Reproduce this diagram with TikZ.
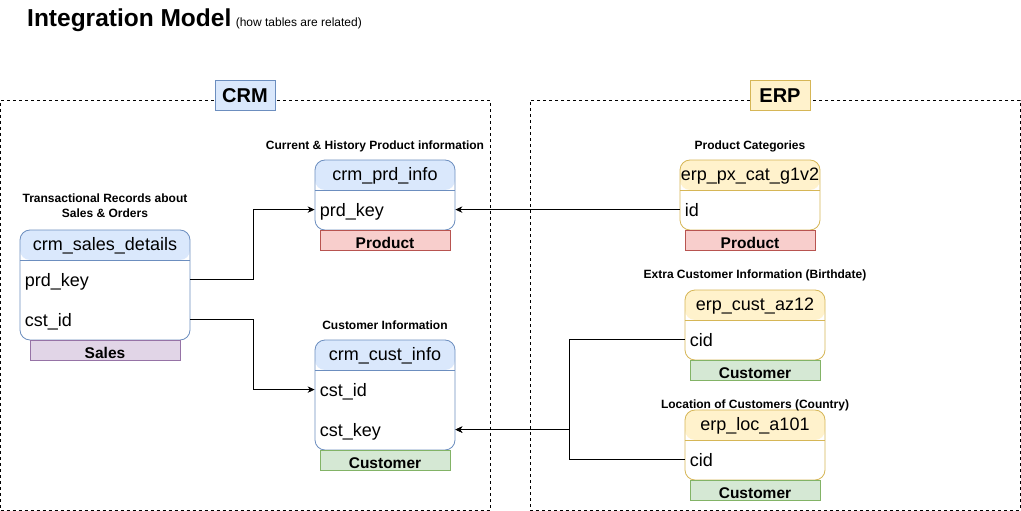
\documentclass[tikz,border=0pt]{standalone}
\usepackage{fontspec}
\setmainfont{Liberation Sans}
\usetikzlibrary{positioning,arrows.meta}

\definecolor{crmfill}{HTML}{DAE8FC}
\definecolor{crmline}{HTML}{6C8EBF}
\definecolor{erpfill}{HTML}{FFF2CC}
\definecolor{erpline}{HTML}{D6B656}
\definecolor{prodfill}{HTML}{F8CECC}
\definecolor{prodline}{HTML}{B85450}
\definecolor{custfill}{HTML}{D5E8D4}
\definecolor{custline}{HTML}{82B366}
\definecolor{salesfill}{HTML}{E1D5E7}
\definecolor{salesline}{HTML}{9673A6}

\begin{document}
\begin{tikzpicture}[
    x=1pt, y=-1pt,
    group/.style={rectangle, draw=black, dash pattern=on 3pt off 3pt, line width=0.8pt, inner sep=0pt},
    system/.style={rectangle, draw=#1line, fill=#1fill, line width=0.8pt, minimum width=60pt, minimum height=30pt, inner sep=0pt, font=\fontsize{20}{24}\selectfont\bfseries, text height=15.4pt, text depth=0pt},
    table/.style={rectangle, rounded corners=10pt, draw=#1line, fill=white, line width=0.8pt, inner sep=0pt, minimum width=140pt, minimum height=70pt,
        path picture={
            \fill[#1fill] (path picture bounding box.north west) rectangle ([yshift=-30pt]path picture bounding box.north east);
            \draw[#1line, line width=0.8pt] ([yshift=-30pt]path picture bounding box.north west) -- ([yshift=-30pt]path picture bounding box.north east);}},
    header/.style={inner sep=0pt, font=\fontsize{18}{22}\selectfont, text height=13pt, text depth=2pt},
    field/.style={inner sep=0pt, anchor=west, font=\fontsize{18}{22}\selectfont, text height=15pt, text depth=1.6pt},
    tag/.style={rectangle, draw=#1line, fill=#1fill, line width=0.8pt, minimum width=130pt, minimum height=20pt, inner sep=0pt, font=\fontsize{15.5}{18}\selectfont\bfseries, text height=15pt, text depth=0pt},
    desc/.style={inner sep=0pt, align=center, font=\fontsize{12}{15}\selectfont\bfseries, text depth=0pt},
    link/.style={-{Stealth[length=7pt, width=6.5pt]}, line width=0.8pt}
]
\useasboundingbox (0,0) rectangle (1021,511);

% Title
\node[anchor=base west, inner sep=0pt, font=\fontsize{24.5}{30}\selectfont\bfseries] (title) at (27,26.5) {Integration Model};
\node[anchor=base west, inner sep=0pt, font=\fontsize{12}{15}\selectfont] (subtitle) at ([xshift=4pt]title.base east) {(how tables are related)};

% Source systems
\node[group, minimum width=489.5pt, minimum height=410pt] (crm) at (245.25,305) {};
\node[group, minimum width=490pt, minimum height=410pt] (erp) at (775,305) {};
\node[system=crm] (crmlabel) at (245,95) {CRM};
\node[system=erp] (erplabel) at (780,95) {ERP};

% CRM tables
\node[table=crm] (prdinfo) at (385,195) {};
\node[header] (pi-head) at ([yshift=-15pt]prdinfo.north) {crm\_prd\_info};
\node[field] (pi-key) at ([xshift=5pt, yshift=-50pt]prdinfo.north west) {prd\_key};
\node[tag=prod, below=0pt of prdinfo] (pi-tag) {Product};
\node[desc, above=10.2pt of prdinfo, xshift=-10pt] (pi-desc) {Current \& History Product information};

\node[table=crm, minimum width=170pt, minimum height=110pt] (salesdet) at (105,285) {};
\node[header] (sd-head) at ([yshift=-15pt]salesdet.north) {crm\_sales\_details};
\node[field] (sd-prd) at ([xshift=5pt, yshift=-50pt]salesdet.north west) {prd\_key};
\node[field] (sd-cst) at ([xshift=5pt, yshift=-90pt]salesdet.north west) {cst\_id};
\node[tag=sales, minimum width=150pt, below=0pt of salesdet] (sd-tag) {Sales};
\node[desc, above=12pt of salesdet] (sd-desc) {Transactional Records about\\Sales \& Orders};

\node[table=crm, minimum height=110pt] (custinfo) at (385,395) {};
\node[header] (ci-head) at ([yshift=-15pt]custinfo.north) {crm\_cust\_info};
\node[field] (ci-id) at ([xshift=5pt, yshift=-50pt]custinfo.north west) {cst\_id};
\node[field] (ci-key) at ([xshift=5pt, yshift=-90pt]custinfo.north west) {cst\_key};
\node[tag=cust, below=0pt of custinfo] (ci-tag) {Customer};
\node[desc, above=9.5pt of custinfo] (ci-desc) {Customer Information};

% ERP tables
\node[table=erp] (pxcat) at (750,195) {};
\node[header] (px-head) at ([yshift=-15pt]pxcat.north) {erp\_px\_cat\_g1v2};
\node[field] (px-id) at ([xshift=5pt, yshift=-50pt]pxcat.north west) {id};
\node[tag=prod, below=0pt of pxcat] (px-tag) {Product};
\node[desc, above=10.2pt of pxcat] (px-desc) {Product Categories};

\node[table=erp] (custaz) at (755,325) {};
\node[header] (az-head) at ([yshift=-15pt]custaz.north) {erp\_cust\_az12};
\node[field] (az-cid) at ([xshift=5pt, yshift=-50pt]custaz.north west) {cid};
\node[tag=cust, below=0pt of custaz] (az-tag) {Customer};
\node[desc, above=11pt of custaz] (az-desc) {Extra Customer Information (Birthdate)};

\node[table=erp] (locaz) at (755,445) {};
\node[header] (loc-head) at ([yshift=-15pt]locaz.north) {erp\_loc\_a101};
\node[field] (loc-cid) at ([xshift=5pt, yshift=-50pt]locaz.north west) {cid};
\node[tag=cust, below=0pt of locaz] (loc-tag) {Customer};
\node[desc, above=1pt of locaz] (loc-desc) {Location of Customers (Country)};

% Relations
\draw[link] (salesdet.east |- sd-prd) -- ++(63pt,0pt) |- (prdinfo.west |- pi-key);
\draw[link] (salesdet.east |- sd-cst) -- ++(63pt,0pt) |- (custinfo.west |- ci-id);
\draw[link] (pxcat.west |- px-id) -- (prdinfo.east |- pi-key);
\draw[link] (custaz.west |- az-cid) -- ++(-115pt,0pt) |- (custinfo.east |- ci-key);
\draw[link] (locaz.west |- loc-cid) -- ++(-115pt,0pt) |- (custinfo.east |- ci-key);

\end{tikzpicture}
\end{document}
